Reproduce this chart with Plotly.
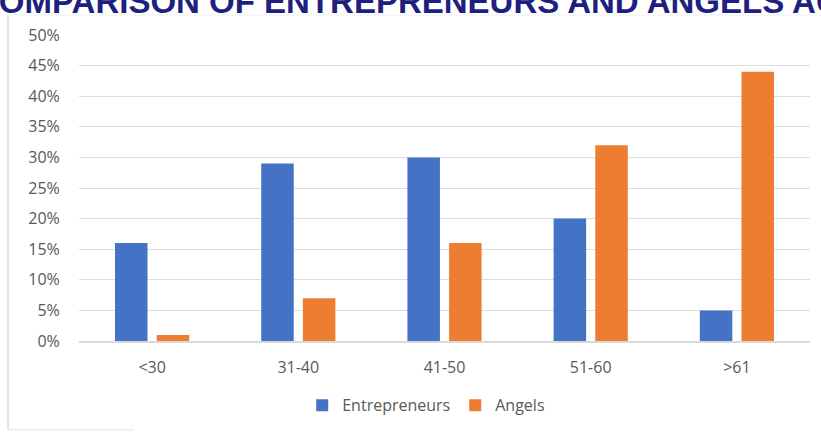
import plotly.graph_objects as go

categories = ["<30", "31-40", "41-50", "51-60", ">61"]
entrepreneurs = [16, 29, 30, 20, 5]
angels = [1, 7, 16, 32, 44]
title_text = "COMPARISON OF ENTREPRENEURS AND ANGELS AGE"

FONT = "'Open Sans', Lato, sans-serif"

fig = go.Figure()
fig.add_trace(go.Bar(x=categories, y=entrepreneurs, name="Entrepreneurs",
                     marker=dict(color="#4472C4", line=dict(width=0))))
fig.add_trace(go.Bar(x=categories, y=angels, name="Angels",
                     marker=dict(color="#ED7D31", line=dict(width=0))))

fig.update_layout(
    width=821, height=435,
    margin=dict(l=79, r=11, t=35, b=94),
    paper_bgcolor="white", plot_bgcolor="white",
    barmode="group", bargap=0.43, bargroupgap=0.22,
    font=dict(family=FONT, size=16, color="#595959"),
    showlegend=True,
    legend=dict(orientation="h", x=0.475, xanchor="center", y=-0.21, yanchor="middle",
                font=dict(size=16, color="#595959"), itemwidth=30, traceorder="normal"),
    xaxis=dict(showgrid=False, showline=True, linecolor="#D9D9D9", linewidth=1.5,
               ticks="outside", ticklen=11, tickcolor="rgba(0,0,0,0)",
               tickfont=dict(size=16, color="#595959")),
    yaxis=dict(range=[0, 50], dtick=5, ticksuffix="%", showgrid=True,
               gridcolor="#DDDDDD", gridwidth=1.2, zeroline=False, showline=False,
               ticks="outside", ticklen=15, tickcolor="rgba(0,0,0,0)",
               tickfont=dict(size=16, color="#595959")),
)

fig.add_annotation(text="<b>" + title_text + "</b>", xref="paper", yref="paper",
                   x=0, xanchor="left", xshift=-106, y=1, yanchor="bottom", yshift=13,
                   showarrow=False,
                   font=dict(family="'Liberation Sans', Arial, sans-serif", size=33, color="#1E1F7E"))

# chart frame fragments
fig.add_shape(type="line", xref="paper", yref="paper", x0=-0.097, x1=-0.097, y0=-0.29, y1=1.065,
              line=dict(color="#E3E3E3", width=2))
fig.add_shape(type="line", xref="paper", yref="paper", x0=-0.097, x1=0.075, y0=-0.29, y1=-0.29,
              line=dict(color="#ECECEC", width=1.5))
fig.add_shape(type="line", xref="paper", yref="paper", x0=-0.097, x1=1.015, y0=1.065, y1=1.065,
              line=dict(color="#F0F0F0", width=1))

fig.write_html("out.html")
